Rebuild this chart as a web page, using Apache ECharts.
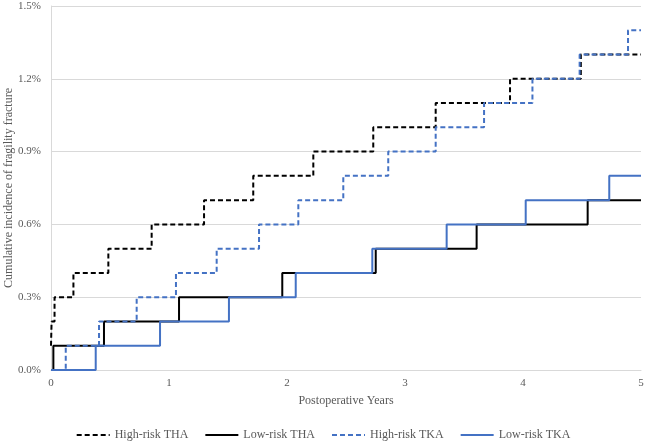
<!DOCTYPE html>
<html>
<head>
<meta charset="utf-8">
<script src="https://cdn.jsdelivr.net/npm/echarts@6/dist/echarts.min.js"></script>
<style>
html,body{margin:0;padding:0;background:#fff;}
#chart{width:646px;height:441px;}
</style>
</head>
<body>
<div id="chart"></div>
<script>
// Data (x = postoperative years where the step rises, y = cumulative incidence in %)
var seriesNames = ['High-risk THA', 'Low-risk THA', 'High-risk TKA', 'Low-risk TKA'];
var xTicks = [0, 1, 2, 3, 4, 5];
var yTicks = [0, 0.3, 0.6, 0.9, 1.2, 1.5];

var highThaX = [0, 0.005, 0.03, 0.19, 0.486, 0.853, 1.297, 1.714, 2.223, 2.731, 3.26, 3.89, 4.49, 5];
var highThaY = [0.1, 0.2, 0.3, 0.4, 0.5, 0.6, 0.7, 0.8, 0.9, 1.0, 1.1, 1.2, 1.3, 1.3];

var lowThaX = [0, 0.02, 0.449, 1.085, 1.96, 2.752, 3.607, 4.548, 5];
var lowThaY = [0, 0.1, 0.2, 0.3, 0.4, 0.5, 0.6, 0.7, 0.7];

var highTkaX = [0, 0.125, 0.407, 0.726, 1.059, 1.404, 1.763, 2.096, 2.477, 2.858, 3.26, 3.67, 4.08, 4.48, 4.89, 5];
var highTkaY = [0, 0.1, 0.2, 0.3, 0.4, 0.5, 0.6, 0.7, 0.8, 0.9, 1.0, 1.1, 1.2, 1.3, 1.4, 1.4];

var lowTkaX = [0, 0.379, 0.924, 1.508, 2.074, 2.723, 3.353, 4.023, 4.731, 5];
var lowTkaY = [0, 0.1, 0.2, 0.3, 0.4, 0.5, 0.6, 0.7, 0.8, 0.8];

function pairs(xs, ys) {
  return xs.map(function (x, i) { return [x, ys[i]]; });
}

var FONT = '"Liberation Serif", "Times New Roman", serif';
var TXT = '#595959';
var BLUE = '#4472C4';

function mk(name, xs, ys, color, dashed) {
  return {
    name: name,
    type: 'line',
    step: 'end',
    symbol: 'none',
    animation: false,
    data: pairs(xs, ys),
    lineStyle: { color: color, width: 2, type: dashed ? [5, 3] : 'solid' },
    itemStyle: { color: color }
  };
}

var chart = echarts.init(document.getElementById('chart'), null, { renderer: 'canvas' });
chart.setOption({
  backgroundColor: '#fff',
  animation: false,
  textStyle: { fontFamily: FONT },
  grid: { left: 51, right: 5, top: 6, bottom: 71, containLabel: false, outerBoundsMode: 'none' },
  legend: {
    data: seriesNames,
    top: 424,
    left: 'center',
    itemWidth: 33,
    itemHeight: 10,
    itemGap: 16,
    itemStyle: { opacity: 0 },
    textStyle: { color: TXT, fontSize: 12, fontFamily: FONT }
  },
  xAxis: {
    type: 'value',
    min: xTicks[0],
    max: xTicks[xTicks.length - 1],
    interval: 1,
    name: 'Postoperative Years',
    nameLocation: 'middle',
    nameGap: 25,
    nameMoveOverlap: false,
    nameTextStyle: { color: TXT, fontSize: 12, fontFamily: FONT },
    axisLine: { show: true, lineStyle: { color: '#d9d9d9', width: 1 } },
    axisTick: { show: false },
    splitLine: { show: false },
    axisLabel: { color: TXT, fontSize: 11, fontFamily: FONT, margin: 8 }
  },
  yAxis: {
    type: 'value',
    min: yTicks[0],
    max: yTicks[yTicks.length - 1],
    interval: 0.3,
    name: 'Cumulative incidence of fragility fracture',
    nameLocation: 'middle',
    nameGap: 36,
    nameMoveOverlap: false,
    nameTextStyle: { color: TXT, fontSize: 12, fontFamily: FONT },
    axisLine: { show: true, lineStyle: { color: '#d9d9d9', width: 1 } },
    axisTick: { show: false },
    splitLine: { show: true, lineStyle: { color: '#d9d9d9', width: 1 } },
    axisLabel: {
      color: TXT, fontSize: 11, fontFamily: FONT, margin: 10,
      formatter: function (v) { return v.toFixed(1) + '%'; }
    }
  },
  series: [
    mk(seriesNames[0], highThaX, highThaY, '#000000', true),
    mk(seriesNames[1], lowThaX, lowThaY, '#000000', false),
    mk(seriesNames[2], highTkaX, highTkaY, BLUE, true),
    mk(seriesNames[3], lowTkaX, lowTkaY, BLUE, false)
  ]
});
</script>
</body>
</html>
